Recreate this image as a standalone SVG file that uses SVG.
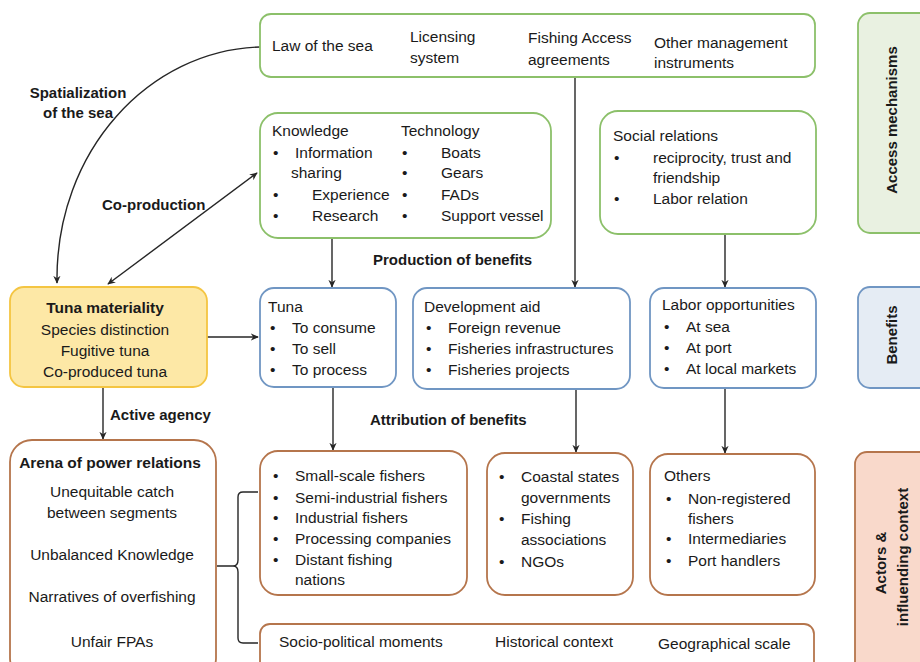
<svg xmlns="http://www.w3.org/2000/svg" width="920" height="662" viewBox="0 0 920 662">
<defs>
<marker id="ah" viewBox="0 0 10 10" refX="9" refY="5" markerWidth="8" markerHeight="8" orient="auto-start-reverse" markerUnits="userSpaceOnUse">
<path d="M0,0.5 L10,5 L0,9.5 L3,5 Z" fill="#262626"/>
</marker>
<style>
text{font-family:"Liberation Sans",Arial,sans-serif;font-size:15.5px;fill:#1a1a1a}
.b{font-weight:bold;font-size:15px}
.c{text-anchor:middle}
.g{fill:#fff;stroke:#8cc06a;stroke-width:1.8}
.bl{fill:#fff;stroke:#7096c3;stroke-width:1.8}
.br{fill:#fff;stroke:#b5754c;stroke-width:1.8}
.ln{fill:none;stroke:#262626;stroke-width:1.4}
</style>
</defs>
<rect width="920" height="662" fill="#fff"/>

<g id="connectors">
<path class="ln" d="M260,47 C150,50 55,150 57,283" marker-end="url(#ah)"/>
<line class="ln" x1="257" y1="173" x2="108" y2="284" marker-start="url(#ah)" marker-end="url(#ah)"/>
<line class="ln" x1="332" y1="238" x2="332" y2="287" marker-end="url(#ah)"/>
<line class="ln" x1="575" y1="77" x2="575" y2="287" marker-end="url(#ah)"/>
<line class="ln" x1="725" y1="234" x2="725" y2="287" marker-end="url(#ah)"/>
<line class="ln" x1="207" y1="337" x2="258" y2="337" marker-end="url(#ah)"/>
<line class="ln" x1="103" y1="387" x2="103" y2="439" marker-end="url(#ah)"/>
<line class="ln" x1="333" y1="387" x2="333" y2="450" marker-end="url(#ah)"/>
<line class="ln" x1="576" y1="389" x2="576" y2="452" marker-end="url(#ah)"/>
<line class="ln" x1="725" y1="388" x2="725" y2="453" marker-end="url(#ah)"/>
<path class="ln" d="M258,492 L243,492 Q238,492 238,497 L238,560 Q238,566 233,566 L217,566 M233,566 Q238,566 238,572 L238,638 Q238,643 243,643 L258,643"/>
<text class="b" x="78" y="98" text-anchor="middle">Spatialization</text>
<text class="b" x="78" y="118" text-anchor="middle">of the sea</text>
<text class="b" x="102" y="210">Co-production</text>
<text class="b" x="110" y="420">Active agency</text>
<text class="b" x="373" y="265">Production of benefits</text>
<text class="b" x="370" y="425">Attribution of benefits</text>
</g>

<g id="legal">
<rect class="g" x="260" y="14" width="555" height="63" rx="11"/>
<text x="272" y="51">Law of the sea</text>
<text x="410" y="42">Licensing</text>
<text x="410" y="63">system</text>
<text x="528" y="43">Fishing Access</text>
<text x="528" y="65">agreements</text>
<text x="654" y="48">Other management</text>
<text x="654" y="68">instruments</text>
</g>

<g id="knowledge">
<rect class="g" x="260" y="113" width="291" height="125" rx="18"/>
<text x="272" y="136">Knowledge</text>
<text x="273" y="158">•</text><text x="295" y="158">Information</text>
<text x="291" y="178">sharing</text>
<text x="273" y="200">•</text><text x="312" y="200">Experience</text>
<text x="273" y="221">•</text><text x="312" y="221">Research</text>
<text x="401" y="136">Technology</text>
<text x="402" y="158">•</text><text x="441" y="158">Boats</text>
<text x="402" y="178">•</text><text x="441" y="178">Gears</text>
<text x="402" y="200">•</text><text x="441" y="200">FADs</text>
<text x="402" y="221">•</text><text x="441" y="221">Support vessel</text>
</g>

<g id="social">
<rect class="g" x="600" y="111" width="216" height="123" rx="18"/>
<text x="613" y="141">Social relations</text>
<text x="614" y="163">•</text><text x="653" y="163">reciprocity, trust and</text>
<text x="653" y="183">friendship</text>
<text x="614" y="204">•</text><text x="653" y="204">Labor relation</text>
</g>

<g id="access-label">
<rect x="858" y="13" width="80" height="220" rx="12" fill="#e9f1e1" stroke="#8cc06a" stroke-width="1.8"/>
<text class="b c" transform="translate(897,120) rotate(-90)">Access mechanisms</text>
</g>

<g id="tuna-materiality">
<rect x="10" y="287" width="197" height="100" rx="14" fill="#fde8a6" stroke="#f4c542" stroke-width="1.8"/>
<text class="c" x="105" y="313" font-weight="bold">Tuna materiality</text>
<text class="c" x="105" y="335">Species distinction</text>
<text class="c" x="105" y="356">Fugitive tuna</text>
<text class="c" x="105" y="377">Co-produced tuna</text>
</g>

<g id="tuna">
<rect class="bl" x="260" y="288" width="136" height="99" rx="14"/>
<text x="268" y="312">Tuna</text>
<text x="270" y="333">•</text><text x="292" y="333">To consume</text>
<text x="270" y="354">•</text><text x="292" y="354">To sell</text>
<text x="270" y="375">•</text><text x="292" y="375">To process</text>
</g>

<g id="development">
<rect class="bl" x="413" y="288" width="217" height="101" rx="14"/>
<text x="424" y="312">Development aid</text>
<text x="426" y="333">•</text><text x="448" y="333">Foreign revenue</text>
<text x="426" y="354">•</text><text x="448" y="354">Fisheries infrastructures</text>
<text x="426" y="375">•</text><text x="448" y="375">Fisheries projects</text>
</g>

<g id="labor">
<rect class="bl" x="650" y="288" width="166" height="100" rx="14"/>
<text x="662" y="310">Labor opportunities</text>
<text x="664" y="332">•</text><text x="686" y="332">At sea</text>
<text x="664" y="353">•</text><text x="686" y="353">At port</text>
<text x="664" y="374">•</text><text x="686" y="374">At local markets</text>
</g>

<g id="benefits-label">
<rect x="858" y="287" width="80" height="101" rx="12" fill="#e5ecf4" stroke="#7096c3" stroke-width="1.8"/>
<text class="b c" transform="translate(897,335) rotate(-90)">Benefits</text>
</g>

<g id="arena">
<rect class="br" x="10" y="440" width="206" height="240" rx="22"/>
<text class="c" x="110" y="468" font-weight="bold">Arena of power relations</text>
<text class="c" x="112" y="497">Unequitable catch</text>
<text class="c" x="112" y="518">between segments</text>
<text class="c" x="112" y="560">Unbalanced Knowledge</text>
<text class="c" x="112" y="602">Narratives of overfishing</text>
<text class="c" x="112" y="647">Unfair FPAs</text>
</g>

<g id="fishers">
<rect class="br" x="260" y="451" width="207" height="144" rx="18"/>
<text x="273" y="481">•</text><text x="295" y="481">Small-scale fishers</text>
<text x="273" y="503">•</text><text x="295" y="503">Semi-industrial fishers</text>
<text x="273" y="523">•</text><text x="295" y="523">Industrial fishers</text>
<text x="273" y="544">•</text><text x="295" y="544">Processing companies</text>
<text x="273" y="565">•</text><text x="295" y="565">Distant fishing</text>
<text x="295" y="585">nations</text>
</g>

<g id="coastal">
<rect class="br" x="487" y="453" width="146" height="142" rx="18"/>
<text x="499" y="482">•</text><text x="521" y="482">Coastal states</text>
<text x="521" y="503">governments</text>
<text x="499" y="524">•</text><text x="521" y="524">Fishing</text>
<text x="521" y="545">associations</text>
<text x="499" y="567">•</text><text x="521" y="567">NGOs</text>
</g>

<g id="others">
<rect class="br" x="650" y="454" width="165" height="141" rx="18"/>
<text x="664" y="481">Others</text>
<text x="666" y="504">•</text><text x="688" y="504">Non-registered</text>
<text x="688" y="524">fishers</text>
<text x="666" y="544">•</text><text x="688" y="544">Intermediaries</text>
<text x="666" y="566">•</text><text x="688" y="566">Port handlers</text>
</g>

<g id="context">
<rect class="br" x="260" y="624" width="554" height="60" rx="10"/>
<text x="279" y="647">Socio-political moments</text>
<text x="495" y="647">Historical context</text>
<text x="658" y="649">Geographical scale</text>
</g>

<g id="actors-label">
<rect x="855" y="452" width="83" height="230" rx="12" fill="#f9d9cb" stroke="#b5754c" stroke-width="1.8"/>
<text class="b c" transform="translate(886,563) rotate(-90)">Actors &amp;</text>
<text class="b c" transform="translate(908,557) rotate(-90)">influending context</text>
</g>
</svg>
